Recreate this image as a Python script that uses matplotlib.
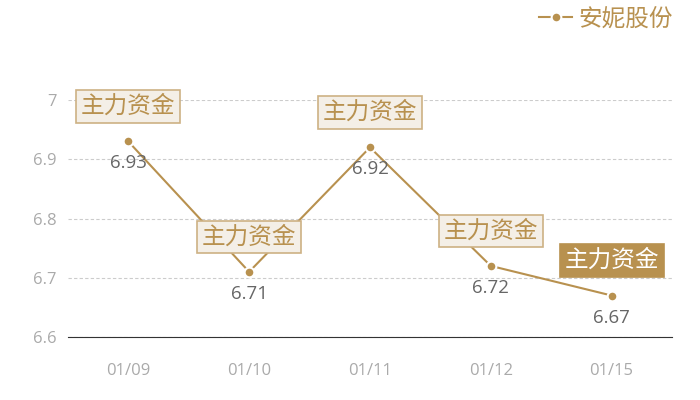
import matplotlib
matplotlib.use('Agg')
import matplotlib.pyplot as plt

plt.rcParams['font.family'] = ['Open Sans', 'Noto Sans CJK SC', 'DejaVu Sans']

dates = ['01/09', '01/10', '01/11', '01/12', '01/15']
prices = [6.93, 6.71, 6.92, 6.72, 6.67]
tag = '主力资金'
series_name = '安妮股份'
y_ticks = [6.6, 6.7, 6.8, 6.9, 7.0]
y_tick_labels = ['6.6', '6.7', '6.8', '6.9', '7']

gold = '#b8914f'
cjk = ['Noto Sans CJK SC', 'DejaVu Sans']
fig = plt.figure(figsize=(7, 4), dpi=100)
ax = fig.add_axes([0.097, 0.1575, 0.863, 0.5925])

x = list(range(len(dates)))
ax.plot(x, prices, color=gold, linewidth=1.5, marker='o', markersize=7,
        markerfacecolor=gold, markeredgecolor='white', markeredgewidth=1.5,
        label=series_name, zorder=3)

for i, v in enumerate(prices):
    ax.annotate(f'{v:.2f}', (i, v), xytext=(0, -22), textcoords='offset pixels',
                ha='center', va='center', fontsize=13.5, color='#666666')
    last = i == len(prices) - 1
    ax.annotate(tag, (i, v), xytext=(0, 35), textcoords='offset pixels',
                ha='center', va='center', fontsize=17, annotation_clip=False,
                family=cjk, color='white' if last else gold, zorder=5,
                bbox=dict(boxstyle='square,pad=0.2',
                          facecolor=gold if last else '#f4efe7',
                          edgecolor=gold if last else '#cdb184', linewidth=1.2))

ax.set_xlim(-0.5, len(dates) - 0.5)
ax.set_ylim(6.6, 7.0)
ax.set_xticks(x)
ax.set_xticklabels(dates)
ax.set_yticks(y_ticks)
ax.set_yticklabels(y_tick_labels)
ax.tick_params(axis='both', length=0, colors='#aaaaaa', labelsize=12)
ax.tick_params(axis='x', pad=19)
ax.tick_params(axis='y', pad=8)
ax.grid(axis='y', color='#cccccc', linestyle=(0, (3, 2)), linewidth=0.8)
for s in ['top', 'right', 'left']:
    ax.spines[s].set_visible(False)
ax.spines['bottom'].set_color('#333333')

leg = ax.legend(loc='center right', bbox_to_anchor=(0.961, 0.953),
                bbox_transform=fig.transFigure, frameon=False,
                prop={'family': cjk, 'size': 17}, handlelength=1.4,
                handletextpad=0.25, borderpad=0, borderaxespad=0)
for t in leg.get_texts():
    t.set_color(gold)

fig.savefig('out.png', dpi=100)
